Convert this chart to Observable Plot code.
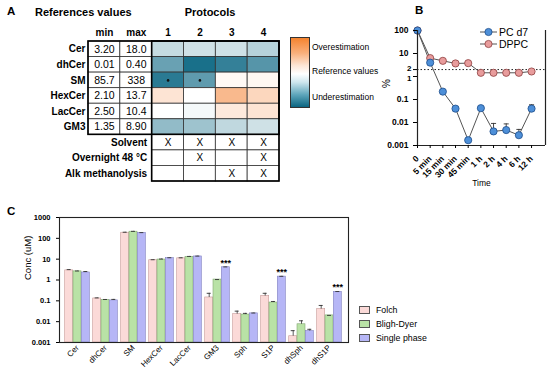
<!DOCTYPE html>
<html><head><meta charset="utf-8">
<script src="https://cdn.jsdelivr.net/npm/d3@7"></script>
<script src="https://cdn.jsdelivr.net/npm/@observablehq/plot@0.6"></script>
<style>
body{margin:0;background:#fff;}
#wrap{position:relative;width:550px;height:372px;overflow:hidden;font-family:'Liberation Sans',Arial,sans-serif;color:#000;}
#wrap svg.layer{position:absolute;left:0;top:0;}
.lbl{position:absolute;white-space:nowrap;line-height:1;}
</style></head><body><div id="wrap"></div>
<script>
// ---------- Panel A data ----------
const lipidsA = ["Cer","dhCer","SM","HexCer","LacCer","GM3"];
const refMin = ["3.20","0.01","85.7","2.10","2.50","1.35"];
const refMax = ["18.0","0.40","338","13.7","10.4","8.90"];
const protocols = ["1","2","3","4"];
// deviation from reference values (-1 = under, 0 = reference, +1 = over), by lipid
const dev1 = [-0.24,-0.62,-0.88,0.22,0.0,-0.45];
const dev2 = [-0.2,-0.95,-0.66,0.0,-0.04,-0.4];
const dev3 = [-0.2,-0.84,0.05,0.58,0.18,-0.26];
const dev4 = [-0.3,-0.7,0.07,0.33,0.22,-0.2];
const smStar = [true,true,false,false];
const conditions = ["Solvent","Overnight 48 °C","Alk methanolysis"];
const condSolvent = ["X","X","X","X"];
const condOvernight = ["","X","","X"];
const condAlk = ["","","X","X"];

// ---------- Panel B data ----------
const times = ["0","5 min","15 min","30 min","45 min","1 h","2 h","4 h","6 h","12 h"];
const pcd7 = [100,4.0,0.22,0.04,0.0017,0.042,0.0041,0.0047,0.0028,0.04];
const pcd7Err = [0,0,0,0,0,0,0.005,0.004,0.0022,0.019];
const dppc = [100,6.3,4.8,3.7,3.8,1.45,1.45,1.45,1.45,1.65];
const threshold = 2;
const seriesB = ["PC d7","DPPC"];
const yTicksB = [0.001,0.01,0.1,10,100];
const yTicksBClose = [2,1];

// ---------- Panel C data ----------
const lipidsC = ["Cer","dhCer","SM","HexCer","LacCer","GM3","Sph","S1P","dhSph","dhS1P"];
const methods = ["Folch","Bligh-Dyer","Single phase"];
const folch    = [2.9,0.13,186,8.9,11,0.145,0.023,0.17,0.002,0.04];
const folchErr = [0.25,0.008,10,0.5,0.6,0.085,0.009,0.06,0.0017,0.02];
const bligh    = [2.6,0.112,208,9.6,13,1.05,0.022,0.083,0.0075,0.02];
const blighErr = [0.1,0.004,8,0.5,0.5,0,0.003,0.01,0.0035,0];
const single   = [2.3,0.105,182,11.2,13.5,4.1,0.025,1.45,0.0035,0.27];
const singleErr= [0.25,0.012,6,0.5,0.5,0.15,0.001,0.05,0.0008,0.01];
const signif   = ["","","","","","***","","***","","***"];
const yTicksC = [0.001,0.01,0.1,1,10,100,1000];

const W = 550, H = 372;
const FONT = "'Liberation Sans', Arial, sans-serif";
const wrap = document.getElementById("wrap");
function layer(opts){
  const svg = Plot.plot({width:W, height:H, style:{background:"transparent", overflow:"visible", fontFamily:FONT, color:"#000"}, ...opts});
  svg.classList.add("layer");
  wrap.appendChild(svg);
}
function label(text, x, y, size, weight, anchor, rot){
  const d = document.createElement("div");
  d.className = "lbl";
  d.textContent = text;
  d.style.left = x + "px"; d.style.top = y + "px";
  d.style.fontSize = size + "px"; d.style.fontWeight = weight || "normal";
  const tx = anchor === "middle" ? "-50%" : anchor === "end" ? "-100%" : "0";
  d.style.transform = `translate(${tx},-50%)` + (rot ? ` rotate(${rot}deg)` : "");
  wrap.appendChild(d);
  return d;
}

// ---------- Panel A ----------
const columns = ["min","max",...protocols];
const devs = [dev1,dev2,dev3,dev4];
const conds = [condSolvent,condOvernight,condAlk];
const refCells = lipidsA.flatMap((l,r)=>[{c:0,r,t:refMin[r]},{c:1,r,t:refMax[r]}]);
const heatCells = protocols.flatMap((p,j)=>lipidsA.map((l,r)=>({c:2+j,r,v:devs[j][r]})));
const condCells = conditions.flatMap((cd,k)=>protocols.map((p,j)=>({c:2+j,r:lipidsA.length+k,t:conds[k][j]})));
const starCells = protocols.map((p,j)=>({c:2+j,r:lipidsA.indexOf("SM"),s:smStar[j]})).filter(d=>d.s);
const blocks = [
  {x1:0,x2:columns.length,y1:0,y2:lipidsA.length},
  {x1:2,x2:columns.length,y1:0,y2:lipidsA.length+conditions.length}
];
const cellOpts = {x1:"c", x2:d=>d.c+1, y1:"r", y2:d=>d.r+1, stroke:"#333", strokeWidth:0.8};
layer({
  x:{domain:[0,columns.length], range:[88,279], axis:null},
  y:{domain:[0,lipidsA.length+conditions.length], range:[41,181], axis:null},
  color:{type:"linear", domain:[-1,0,1], range:["#0d6884","#ffffff","#f5863a"]},
  marks:[
    Plot.rect(refCells,{...cellOpts, fill:"white"}),
    Plot.rect(heatCells,{...cellOpts, fill:"v"}),
    Plot.rect(condCells,{...cellOpts, fill:"white"}),
    Plot.rect(blocks,{x1:"x1",x2:"x2",y1:"y1",y2:"y2",fill:"none",stroke:"#000",strokeWidth:1.6}),
    Plot.text(refCells,{x:d=>d.c+0.5,y:d=>d.r+0.5,text:"t",fontSize:10.5}),
    Plot.text(condCells,{x:d=>d.c+0.5,y:d=>d.r+0.5,text:"t",fontSize:10}),
    Plot.dot(starCells,{x:d=>d.c+0.5,y:d=>d.r+0.5,r:1.3,fill:"#111"}),
    Plot.text(lipidsA,{x:()=>0,y:(d,i)=>i+0.5,text:d=>d,dx:-3,textAnchor:"end",fontWeight:"bold",fontSize:10}),
    Plot.text(conditions,{x:()=>2,y:(d,i)=>lipidsA.length+i+0.5,text:d=>d,dx:-5,textAnchor:"end",fontWeight:"bold",fontSize:10}),
    Plot.text(columns,{x:(d,i)=>i+0.5,y:()=>-0.55,text:d=>d,fontWeight:"bold",fontSize:10})
  ]
});
label("A",7,12,11.5,"bold");
label("References values",35,12,11,"bold");
label("Protocols",210,12,11,"bold","middle");
// colour ramp legend
const ramp = document.createElement("div");
Object.assign(ramp.style,{position:"absolute",left:"290px",top:"37px",width:"18px",height:"69px",border:"1px solid #333",
  background:"linear-gradient(to bottom,#f4832f 0%,#f9b07c 22%,#fde6d6 40%,#ffffff 52%,#cfe7ee 64%,#5fa6bb 82%,#0b6581 100%)"});
wrap.appendChild(ramp);
label("Overestimation",312,47,8.5);
label("Reference values",312,71,8.5);
label("Underestimation",312,97,8.5);

// ---------- Panel B ----------
const bData = times.map((t,i)=>({i,t,pc:pcd7[i],pcErr:pcd7Err[i],dp:dppc[i]}));
const bErr = bData.filter(d=>d.pcErr>0);
const xMaxB = 10.1;
layer({
  marginLeft:417, marginRight:5, marginTop:30, marginBottom:227,
  x:{domain:[0,xMaxB]},
  y:{type:"log", domain:[0.001,100]},
  marks:[
    Plot.ruleY([threshold],{stroke:"#222",strokeDasharray:"1.5,2",strokeWidth:1}),
    Plot.line(bData,{x:"i",y:"dp",stroke:"#555",strokeWidth:1}),
    Plot.line(bData,{x:"i",y:"pc",stroke:"#555",strokeWidth:1}),
    Plot.ruleX(bErr,{x:"i",y1:"pc",y2:d=>d.pc+d.pcErr,stroke:"#333",strokeWidth:0.9}),
    Plot.link(bErr,{x1:d=>d.i-0.2,x2:d=>d.i+0.2,y1:d=>d.pc+d.pcErr,y2:d=>d.pc+d.pcErr,stroke:"#333",strokeWidth:0.9}),
    Plot.dot(bData,{x:"i",y:"dp",r:3.6,fill:"#e89c9c",stroke:"#8e3f3f",strokeWidth:0.8}),
    Plot.dot(bData,{x:"i",y:"pc",r:3.6,fill:"#4d8fd8",stroke:"#1d4c8a",strokeWidth:0.8}),
    Plot.ruleX([0, xMaxB],{stroke:"#222",strokeWidth:1.2}),
    Plot.ruleY([0.001],{stroke:"#222",strokeWidth:1.2}),
    Plot.axisY({ticks:yTicksB,tickFormat:d=>String(d),fontWeight:"bold",fontSize:8.5,tickSize:4,label:null}),
    Plot.axisY({ticks:yTicksBClose,tickFormat:()=>"",tickSize:4,label:null}),
    Plot.text(yTicksBClose,{x:()=>0,y:d=>d,text:d=>String(d),dx:-6,dy:-1.3,textAnchor:"end",fontWeight:"bold",fontSize:8,filter:d=>d===2}),
    Plot.text(yTicksBClose,{x:()=>0,y:d=>d,text:d=>String(d),dx:-6,dy:1.6,textAnchor:"end",fontWeight:"bold",fontSize:8,filter:d=>d===1}),
    Plot.axisX({ticks:d3.range(times.length),tickFormat:i=>times[i],tickRotate:-45,fontWeight:"bold",fontSize:8.5,tickSize:3,label:null}),
    Plot.text(["%"],{frameAnchor:"left",dx:-31,rotate:-90,fontSize:10,text:d=>d}),
    Plot.text(["Time"],{frameAnchor:"bottom",dy:40,fontSize:8.5,text:d=>d})
  ]
});
label("B",415,11,11.5,"bold");
// B legend
const bColors = [["#4d8fd8","#1d4c8a"],["#e89c9c","#8e3f3f"]];
seriesB.forEach((s,k)=>{
  const y = 32 + k*11.5;
  const sv = document.createElementNS("http://www.w3.org/2000/svg","svg");
  sv.setAttribute("width","18"); sv.setAttribute("height","10");
  Object.assign(sv.style,{position:"absolute",left:"480px",top:(y-5)+"px"});
  sv.innerHTML = `<line x1="0" x2="17" y1="5" y2="5" stroke="#555" stroke-width="1"/><circle cx="8.5" cy="5" r="3.6" fill="${bColors[k][0]}" stroke="${bColors[k][1]}" stroke-width="0.8"/>`;
  wrap.appendChild(sv);
  label(s,499,y,10.5);
});

// ---------- Panel C ----------
const valsC = [folch,bligh,single], errsC = [folchErr,blighErr,singleErr];
const fillC = ["#fbdad8","#b9e2a6","#b6b6f6"];
const strokeC = ["#c79a98","#82a872","#8080c0"];
const cData = methods.flatMap((m,k)=>lipidsC.map((l,i)=>({l,k,i,v:valsC[k][i],e:errsC[k][i]})));
const step = 8.3;
const cMarks = [];
methods.forEach((m,k)=>{
  const sub = cData.filter(d=>d.k===k);
  const dx = (k-1)*step;
  cMarks.push(
    Plot.barY(sub,{x:"l",y1:()=>0.001,y2:"v",fill:fillC[k],stroke:strokeC[k],strokeWidth:0.6,dx}),
    Plot.ruleX(sub.filter(d=>d.e>0),{x:"l",y1:"v",y2:d=>d.v+d.e,stroke:"#333",strokeWidth:0.8,dx}),
    Plot.tickY(sub,{x:"l",y:d=>d.v+d.e,stroke:"#333",strokeWidth:0.9,dx,insetLeft:2,insetRight:2})
  );
});
cMarks.push(
  Plot.text(cData.filter(d=>d.k===2 && signif[d.i]),{x:"l",y:d=>d.v+d.e,text:d=>signif[d.i],dx:step,dy:-4,fontSize:9,fontWeight:"bold"}),
  Plot.frame({stroke:"#222",strokeWidth:1.1}),
  Plot.axisY({ticks:yTicksC,tickFormat:d=>String(d),fontWeight:"bold",fontSize:7.5,tickSize:3,label:null}),
  Plot.axisX({tickRotate:-45,fontSize:8,tickSize:0,tickPadding:4,label:null}),
  Plot.text(["Conc (uM)"],{frameAnchor:"left",dx:-32,rotate:-90,fontSize:9.5,text:d=>d})
);
layer({
  marginLeft:59, marginRight:202, marginTop:217, marginBottom:30,
  x:{type:"band",domain:lipidsC,paddingInner:0.71,paddingOuter:0.415},
  y:{type:"log",domain:[0.001,1000]},
  marks:cMarks
});
label("C",7,212,11.5,"bold");
// C legend
methods.forEach((m,k)=>{
  const y = 309.5 + k*14;
  const sw = document.createElement("div");
  Object.assign(sw.style,{position:"absolute",left:"359px",top:(y-3.5)+"px",width:"9px",height:"6px",background:fillC[k],border:"1px solid #555"});
  wrap.appendChild(sw);
  label(m,376,y,8.8);
});
</script></body></html>
